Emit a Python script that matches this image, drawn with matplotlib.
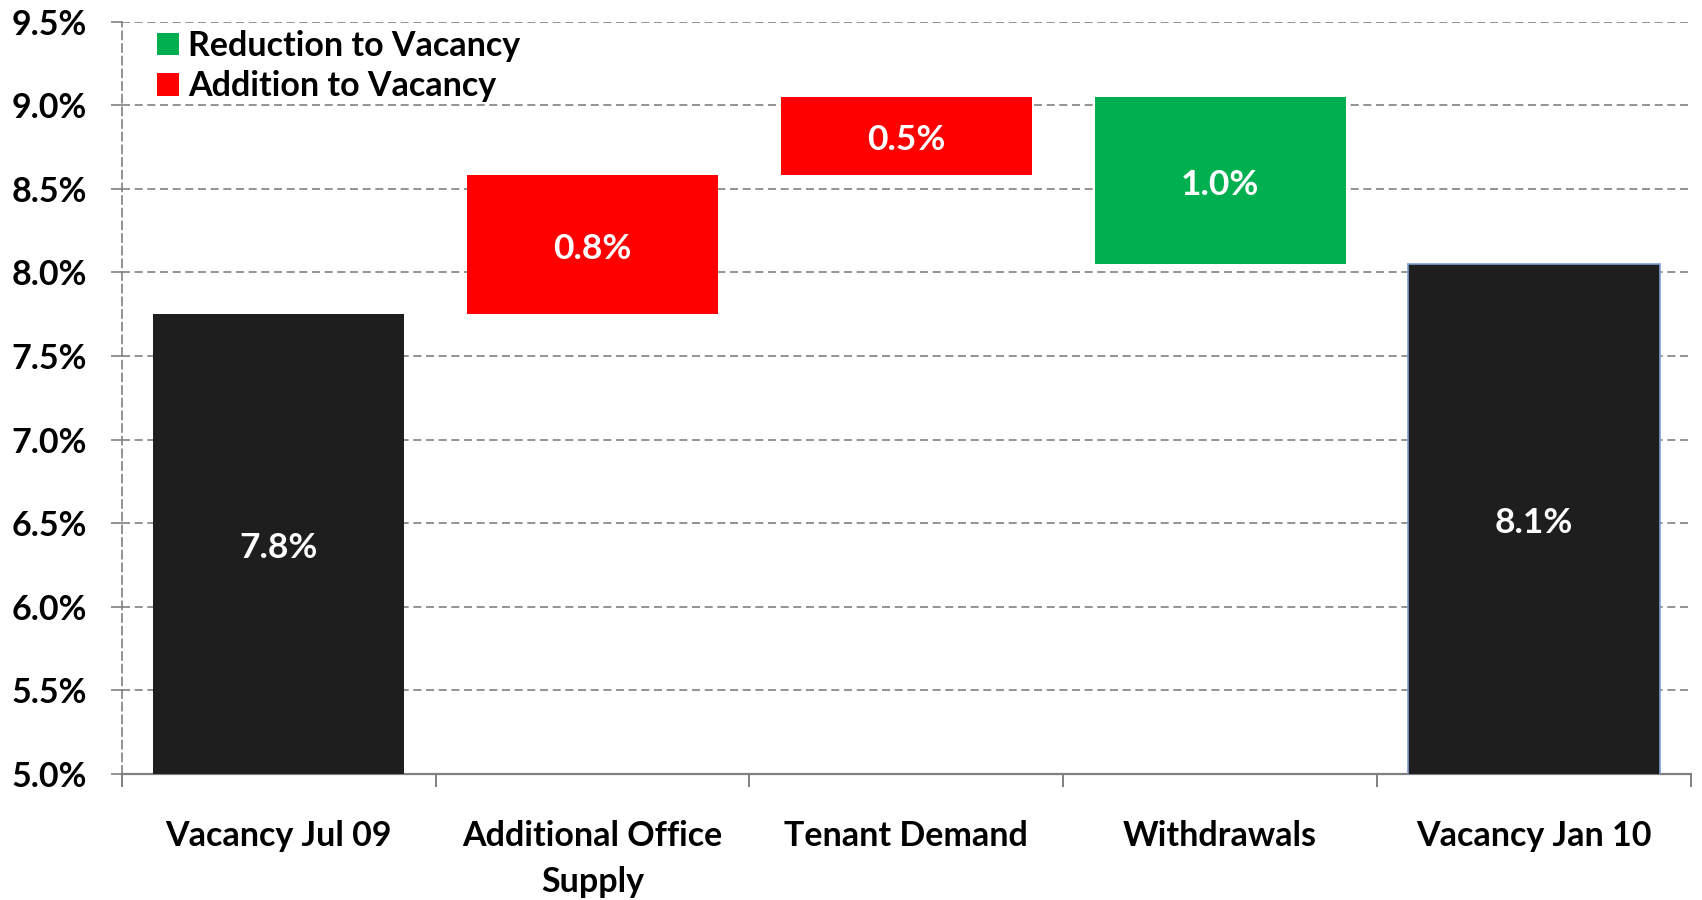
import matplotlib
matplotlib.use("Agg")
import matplotlib.pyplot as plt
from matplotlib.patches import Patch
import numpy as np

# vacancy bridge, Jul 09 -> Jan 10 (percent)
categories = ["Vacancy Jul 09", "Additional Office\nSupply", "Tenant Demand",
              "Withdrawals", "Vacancy Jan 10"]
start_vacancy = 7.75
changes = [0.83, 0.47, -1.00]
end_vacancy = 8.05
bar_labels = ["7.8%", "0.8%", "0.5%", "1.0%", "8.1%"]

y_min, y_max = 5.0, 9.5
y_ticks = np.arange(5.0, 9.51, 0.5)

BLACK = "#1e1e1e"
RED = "#ff0000"
GREEN = "#00b050"
GRID = "#808080"

plt.rcParams["font.family"] = ["Lato", "DejaVu Sans"]
plt.rcParams["font.weight"] = "bold"

fig = plt.figure(figsize=(17.02, 9.0), dpi=100)
ax = fig.add_axes([0.0715, 0.14, 0.922, 0.836])

x = np.arange(len(categories))
width = 0.8

# floating bars: running level before each change
levels = np.concatenate([[start_vacancy], start_vacancy + np.cumsum(changes)])
bottoms = [0.0]
heights = [start_vacancy]
colors = [BLACK]
for i, c in enumerate(changes):
    lo = min(levels[i], levels[i + 1])
    bottoms.append(lo)
    heights.append(abs(c))
    colors.append(RED if c > 0 else GREEN)
bottoms.append(0.0)
heights.append(end_vacancy)
colors.append(BLACK)

for i in range(len(categories)):
    edge = "#7f9fcf" if i == len(categories) - 1 else colors[i]
    lw = 1.2 if i == len(categories) - 1 else 0
    ax.bar(x[i], heights[i], width, bottom=bottoms[i], color=colors[i],
           edgecolor=edge, linewidth=lw, zorder=3)
    lo = max(bottoms[i], y_min)
    hi = bottoms[i] + heights[i]
    ax.annotate(bar_labels[i], (x[i], (lo + hi) / 2), xytext=(0, -3),
                textcoords="offset points", color="white", fontsize=25.5,
                fontweight="bold", ha="center", va="center", zorder=4)

ax.set_ylim(y_min, y_max)
ax.set_xlim(-0.5, len(categories) - 0.5)
ax.set_yticks(y_ticks)
ax.set_yticklabels([f"{v:.1f}%" for v in y_ticks])
ax.set_xticks(x)
ax.set_xticklabels(categories, linespacing=1.55)
ax.set_xticks(np.arange(-0.5, len(categories)), minor=True)

ax.yaxis.grid(True, color=GRID, linestyle=(0, (4.8, 2.8)), linewidth=1.2, zorder=0)
ax.set_axisbelow(True)

for s in ["top", "right"]:
    ax.spines[s].set_visible(False)
ax.spines["left"].set_color(GRID)
ax.spines["left"].set_linestyle((0, (4.8, 2.8)))
ax.spines["left"].set_linewidth(1.2)
ax.spines["bottom"].set_color(GRID)
ax.spines["bottom"].set_linewidth(1.6)

ax.tick_params(axis="y", labelsize=24.5, length=8, width=1.2, color=GRID, pad=17)
ax.tick_params(axis="x", which="major", labelsize=24.5, length=0, pad=33)
ax.tick_params(axis="x", which="minor", length=9, width=1.4, color=GRID)

handles = [Patch(facecolor=GREEN, label="Reduction to Vacancy"),
           Patch(facecolor=RED, label="Addition to Vacancy")]
fig.legend(handles=handles, loc="upper left",
           bbox_to_anchor=(157 / 1702, 1 - 30 / 900), frameon=False,
           fontsize=24.5, handlelength=0.65, handleheight=0.65,
           handletextpad=0.27, labelspacing=0.24, borderpad=0, borderaxespad=0)

fig.savefig("out.png", dpi=100)
